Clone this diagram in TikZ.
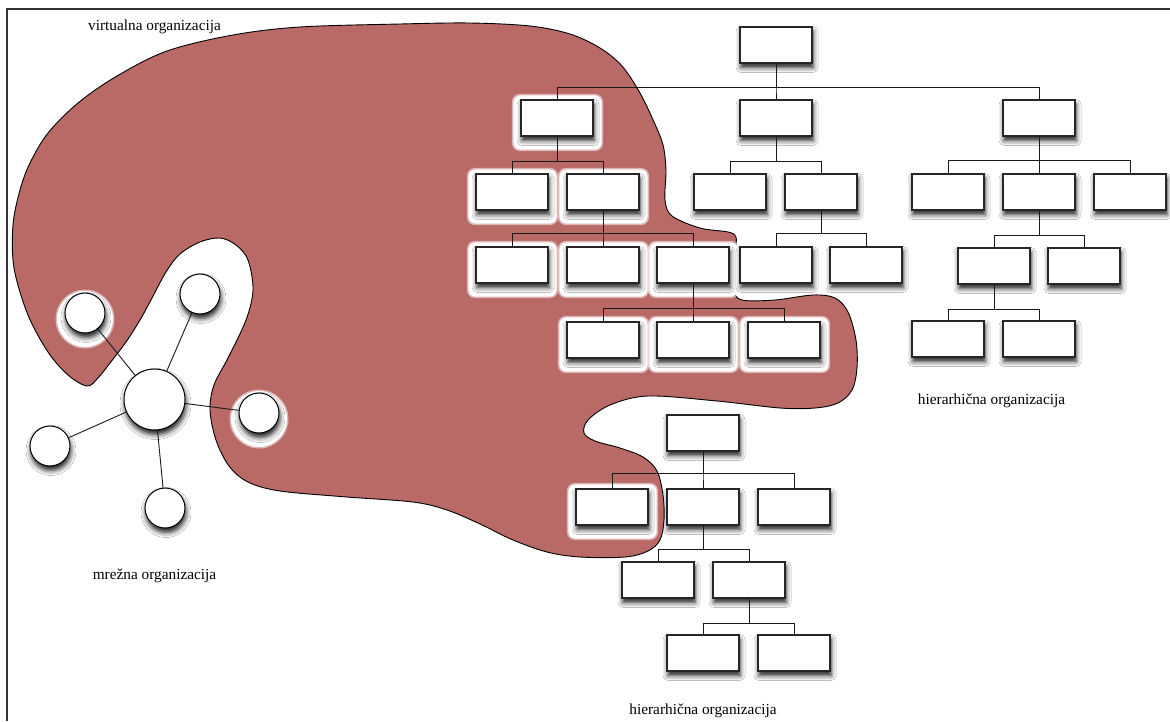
\documentclass[tikz,border=0pt]{standalone}
\usepackage{fontspec}
\setmainfont{Liberation Serif}
\usetikzlibrary{shadows.blur,calc}
\definecolor{blobred}{RGB}{185,106,103}
\pgfdeclarelayer{bg}
\pgfsetlayers{bg,main}
\begin{document}
\begin{tikzpicture}[x=1pt,y=-1pt,
  softshadow/.style={blur shadow={shadow xshift=1pt, shadow yshift=-4.5pt, shadow blur radius=5pt, shadow opacity=90}},
  box/.style={draw=black!85, line width=1.2pt, fill=white, minimum width=72pt, minimum height=36pt, inner sep=0pt, softshadow},
  circ/.style={circle, draw=black, line width=1pt, fill=white, minimum size=40pt, inner sep=0pt, softshadow},
  bigcirc/.style={circ, minimum size=61pt},
  conn/.style={draw=black!90, line width=0.9pt},
  lbl/.style={font=\fontsize{15.3}{18}\selectfont, inner sep=0pt},
  glowbox/.style={fill=white, rounded corners=7pt},
]
\useasboundingbox (0,0) rectangle (1170,721);

% frame
\draw[black!80, line width=1.6pt] (7,721) -- (7,9) -- (1170,9);

% upper hierarchy
\node[box] (R) at (776,45) {};
\node[box] (A) at (557,118) {};
\node[box] (B) at (776,118) {};
\node[box] (C) at (1039,118) {};
\node[box] (A1) at (512,192) {};
\node[box] (A2) at (603,192) {};
\node[box] (B1) at (730,192) {};
\node[box] (B2) at (821,192) {};
\node[box] (C1) at (948,192) {};
\node[box] (C2) at (1039,192) {};
\node[box] (C3) at (1130,192) {};
\node[box] (A21) at (512,265) {};
\node[box] (A22) at (603,265) {};
\node[box] (A23) at (693,265) {};
\node[box] (B21) at (776,265) {};
\node[box] (B22) at (866,265) {};
\node[box] (C21) at (994,266) {};
\node[box] (C22) at (1084,266) {};
\node[box] (A231) at (603,340) {};
\node[box] (A232) at (693,340) {};
\node[box] (A233) at (784,340) {};
\node[box] (C211) at (948,339) {};
\node[box] (C212) at (1039,339) {};

% lower hierarchy
\node[box] (D) at (703,433) {};
\node[box] (D1) at (612,507) {};
\node[box] (D2) at (703,507) {};
\node[box] (D3) at (794,507) {};
\node[box] (D21) at (658,580) {};
\node[box] (D22) at (749,580) {};
\node[box] (D221) at (703,653) {};
\node[box] (D222) at (794,653) {};

% network
\node[bigcirc] (N0) at (154.5,399.5) {};
\node[circ] (N1) at (85,313) {};
\node[circ] (N2) at (200,294) {};
\node[circ] (N3) at (259,413) {};
\node[circ] (N4) at (50,446) {};
\node[circ] (N5) at (165,508) {};

% labels
\node[lbl] (Lv) at (154.5,27) {virtualna organizacija};
\node[lbl] (Lm) at (154.5,576) {mrežna organizacija};
\node[lbl] (Lh1) at (991.5,401) {hierarhična organizacija};
\node[lbl] (Lh2) at (703,711) {hierarhična organizacija};

% connectors
\foreach \p/\y/\cs in {R/87/{A,B,C}, A/161/{A1,A2}, B/161/{B1,B2}, C/160/{C1,C2,C3},
  A2/233/{A21,A22,A23}, B2/233/{B21,B22}, C2/235/{C21,C22}, A23/308/{A231,A232,A233},
  C21/309/{C211,C212}, D/473/{D1,D2,D3}, D2/549/{D21,D22}, D22/623/{D221,D222}} {
  \foreach \c in \cs {
    \draw[conn] (\p.south) -- (\p.south |- 0,\y) -| (\c.north);
  }
}
\foreach \c in {N1,N2,N3,N4,N5} { \draw[conn] (N0) -- (\c); }

% background: white page, virtual organization blob and glows
\begin{pgfonlayer}{bg}
\fill[white] (0,0) rectangle (1170,721);
\filldraw[fill=blobred, draw=black, line width=0.9pt]
  plot[smooth cycle, tension=0.55] coordinates {
  (87,386) (68,375) (48,352) (28,315) (14,268) (13,225) (20,190) (30,163) (48,133) (78,103) (117,76) (167,51) (233,35) (300,27) (400,24) (470,23) (530,26) (570,34) (600,48) (622,66) (640,93) (654,122) (663,145) (666,170) (665,200) (672,216) (700,228) (728,232) (736,237) (735,252) (732,272) (733,290) (742,300) (775,300) (813,295) (835,298) (848,312) (856,340) (857,368) (852,390) (838,403) (815,408) (780,408) (717,401) (648,396) (610,405) (588,420) (584,433) (595,441) (620,448) (643,457) (657,471) (663,495) (664,520) (660,540) (648,551) (625,557) (580,557) (547,552) (513,540) (480,524) (447,510) (413,502) (347,497) (280,491) (248,482) (229,466) (216,440) (210,410) (214,385) (228,358) (246,320) (253,290) (248,260) (236,245) (220,238) (200,242) (180,254) (166,272) (152,298) (140,320) (126,342) (110,363) (98,378)};
\foreach \n in {A,A1,A2,A21,A22,A23,A231,A232,A233,D1} {
  \fill[white, opacity=0.5, rounded corners=8pt] ($(\n.north west)+(-8.5,-5.5)$) rectangle ($(\n.south east)+(9.5,14.5)$);
  \fill[glowbox] ($(\n.north west)+(-7,-4)$) rectangle ($(\n.south east)+(8,13)$);
}
\foreach \n in {N1,N3} {
  \fill[white, opacity=0.5] ($(\n)+(0,6)$) circle (29.5pt);
  \fill[white] ($(\n)+(0,6)$) circle (28pt);
}
\end{pgfonlayer}
\end{tikzpicture}
\end{document}
